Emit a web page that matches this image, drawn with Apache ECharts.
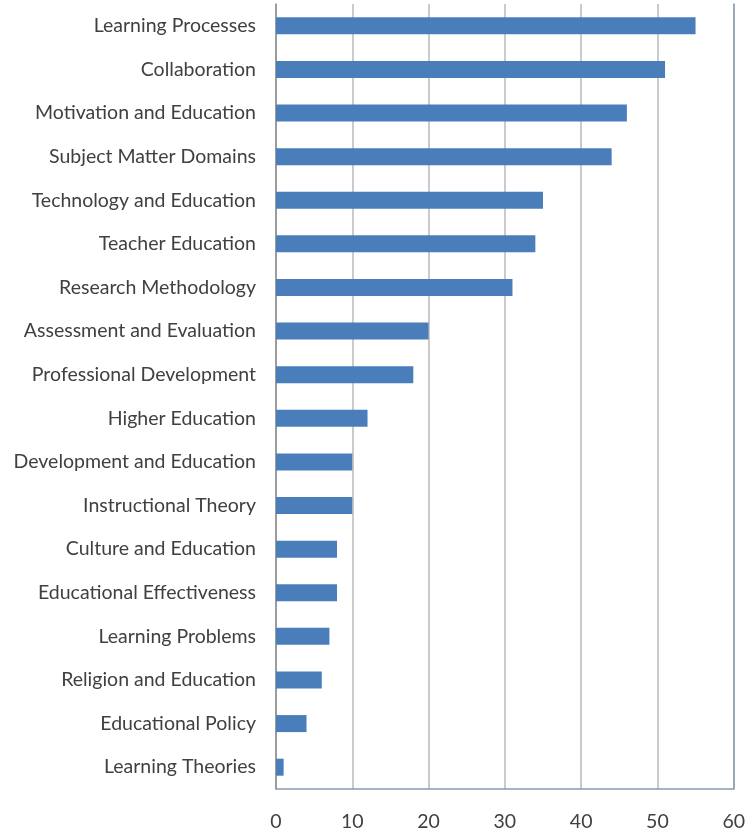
<!DOCTYPE html>
<html>
<head>
<meta charset="utf-8">
<title>Topics</title>
<script src="https://cdn.jsdelivr.net/npm/echarts@6/dist/echarts.min.js"></script>
<style>
    html, body { margin: 0; padding: 0; background: #fff; }
    #chart { width: 748px; height: 832px; }
</style>
</head>
<body>
<div id="chart"></div>
<script>
// categories listed top to bottom
var categories = [
    'Learning Processes', 'Collaboration', 'Motivation and Education', 'Subject Matter Domains',
    'Technology and Education', 'Teacher Education', 'Research Methodology',
    'Assessment and Evaluation', 'Professional Development', 'Higher Education',
    'Development and Education', 'Instructional Theory', 'Culture and Education',
    'Educational Effectiveness', 'Learning Problems', 'Religion and Education',
    'Educational Policy', 'Learning Theories'
];
var counts = [55, 51, 46, 44, 35, 34, 31, 20, 18, 12, 10, 10, 8, 8, 7, 6, 4, 1];
var xTicks = [0, 10, 20, 30, 40, 50, 60];

var myChart = echarts.init(document.getElementById('chart'));

var option = {
    animation: false,
    grid: { left: 276, right: 14, top: 4, bottom: 42 },
    xAxis: {
        type: 'value',
        min: xTicks[0],
        max: xTicks[xTicks.length - 1],
        interval: 10,
        axisLine: { show: true, lineStyle: { color: '#8a9bb3', width: 1.5 } },
        axisTick: { show: false },
        axisLabel: { color: '#404040', fontFamily: 'Lato', fontSize: 19.5, margin: 23 },
        splitLine: { show: true, lineStyle: { color: '#bababa', width: 1.5 } }
    },
    yAxis: [{
        type: 'category',
        inverse: true,
        data: categories,
        axisLine: { show: true, lineStyle: { color: '#8c8c8c', width: 1.5 } },
        axisTick: { show: false },
        axisLabel: { color: '#404040', fontFamily: 'Lato', fontSize: 19.5, margin: 20 }
    }, {
        // right border of the plot area
        type: 'category',
        position: 'right',
        inverse: true,
        data: categories,
        axisLine: { show: true, lineStyle: { color: '#8a9bb3', width: 1.5 } },
        axisTick: { show: false },
        axisLabel: { show: false }
    }],
    series: [{
        type: 'bar',
        data: counts,
        barWidth: 17,
        itemStyle: { color: '#4a7ebb' }
    }]
};

myChart.setOption(option);
</script>
</body>
</html>
